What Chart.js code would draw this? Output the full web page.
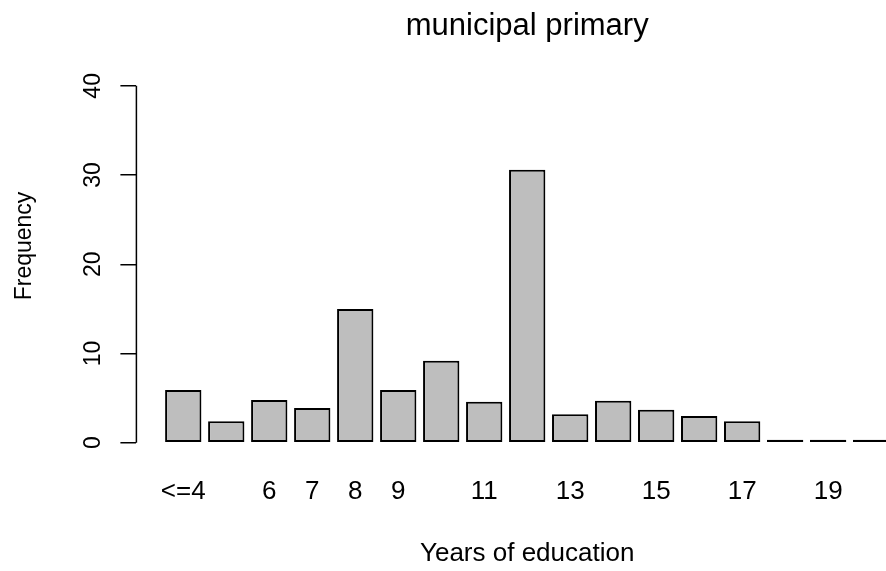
<!DOCTYPE html>
<html>
<head>
<meta charset="utf-8">
<script src="https://cdn.jsdelivr.net/npm/chart.js@4"></script>
<style>
  html, body { margin: 0; padding: 0; background: #fff; overflow: hidden; }
  #wrap { width: 886px; height: 571px; overflow: hidden; }
</style>
</head>
<body>
<div id="wrap"><canvas id="grafico" width="918" height="571"></canvas></div>
<script>
const categorias = ["<=4", "5", "6", "7", "8", "9", "10", "11", "12", "13", "14", "15", "16", "17", "18", "19", "20"];
const frequencias = [5.9, 2.4, 4.8, 3.9, 15.0, 5.9, 9.2, 4.6, 30.6, 3.2, 4.7, 3.7, 3.0, 2.4, 0, 0, 0];
// R only prints the labels that don't overlap
const rotulosVisiveis = ["<=4", "6", "7", "8", "9", "11", "13", "15", "17", "19"];
const ticksY = [0, 10, 20, 30, 40];

const fonte = "'Liberation Sans', Arial, sans-serif";

// eixo y do R: linha so entre o primeiro e o ultimo tick
const linhaEixoY = {
  id: "linhaEixoY",
  afterDraw(chart) {
    const y = chart.scales.y;
    const c = chart.ctx;
    c.save();
    c.strokeStyle = "#000";
    c.lineWidth = 1.5;
    c.beginPath();
    c.moveTo(y.right, y.getPixelForValue(ticksY[0]));
    c.lineTo(y.right, y.getPixelForValue(ticksY[ticksY.length - 1]));
    c.stroke();
    c.restore();
  },
};

const ctx = document.getElementById("grafico").getContext("2d");

new Chart(ctx, {
  type: "bar",
  data: {
    datasets: [
      {
        data: frequencias.map((v, i) => ({ x: i, y: v })),
        backgroundColor: "#bebebe",
        borderColor: "#000",
        borderWidth: 2,
        borderSkipped: false,
        barPercentage: 0.845,
        categoryPercentage: 1,
        minBarLength: 3,
        clip: false,
      },
    ],
  },
  options: {
    responsive: false,
    animation: false,
    events: [],
    layout: { padding: 0 },
    plugins: {
      legend: { display: false },
      tooltip: { enabled: false },
      title: {
        display: true,
        text: "municipal primary",
        fullSize: false,
        color: "#000",
        font: { family: fonte, size: 31, weight: "normal" },
        padding: { top: 8, bottom: 4.1 },
      },
    },
    scales: {
      x: {
        type: "linear",
        offset: false,
        min: -1.09,
        max: 17.09,
        grid: { display: false, drawTicks: false },
        border: { display: false },
        afterBuildTicks: (s) => {
          s.ticks = rotulosVisiveis.map((r) => ({ value: categorias.indexOf(r) }));
        },
        afterFit: (s) => {
          s.height = 128.3;
        },
        ticks: {
          autoSkip: false,
          maxRotation: 0,
          padding: 34,
          color: "#000",
          font: { family: fonte, size: 26 },
          callback: (v) => categorias[v],
        },
        title: {
          display: true,
          text: "Years of education",
          color: "#000",
          font: { family: fonte, size: 26 },
          padding: { top: 0, bottom: 1.1 },
        },
      },
      y: {
        min: 0,
        max: 44.1,
        grid: {
          drawOnChartArea: false,
          drawTicks: true,
          tickLength: 16,
          color: "#000",
          lineWidth: 1.5,
        },
        border: { display: false },
        afterBuildTicks: (s) => {
          s.ticks = ticksY.map((v) => ({ value: v }));
        },
        afterFit: (s) => {
          s.width = 136.4;
        },
        ticks: {
          minRotation: 90,
          maxRotation: 90,
          crossAlign: "center",
          padding: 14.3,
          color: "#000",
          font: { family: fonte, size: 23 },
        },
        title: {
          display: true,
          text: "Frequency",
          color: "#000",
          font: { family: fonte, size: 23 },
          padding: { top: 11.2, bottom: 0 },
        },
      },
    },
  },
  plugins: [linhaEixoY],
});
</script>
</body>
</html>
